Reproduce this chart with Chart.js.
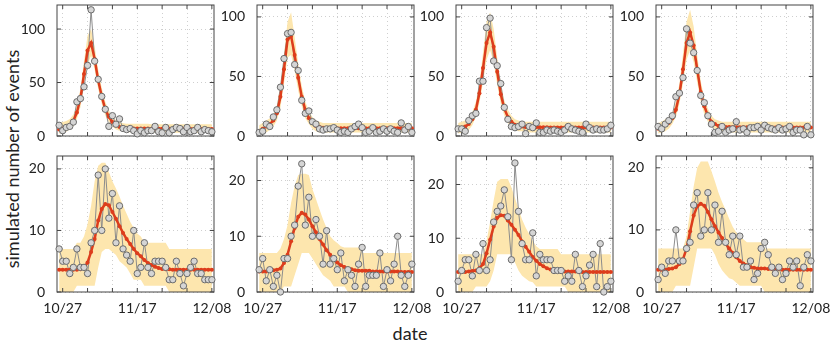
<!DOCTYPE html>
<html>
<head>
  <meta charset="UTF-8">
  <title>simulated number of events</title>
  <script src="https://cdn.jsdelivr.net/npm/chart.js"></script>
  <style>
    body { margin: 0; background: #fff; }
    #wrap { position: relative; width: 830px; height: 342px; font-family: Lato, sans-serif; color: #222; }
    #wrap canvas { position: absolute; }
    .ylab { position: absolute; left: 12px; top: 159px; transform: translate(-50%, -50%) rotate(-90deg); font-size: 18px; white-space: nowrap; }
    .xlab { position: absolute; left: 410px; top: 333px; transform: translate(-50%, -50%); font-size: 18px; }
  </style>
</head>
<body>
  <div id="wrap">
    <div class="ylab">simulated number of events</div>
    <div class="xlab">date</div>
  </div>

  <script>
    // days relative to 10/27
    const days = [-1,0,1,2,3,4,5,6,7,8,9,10,11,12,13,14,15,16,17,18,19,20,21,22,23,24,25,26,27,28,29,30,31,32,33,34,35,36,37,38,39,40,41,42];
    const tickDays = [0, 7, 14, 21, 28, 35, 42];
    const tickLabels = ['10/27', '', '', '11/17', '', '', '12/08'];
    const yTicksTop = [0, 50, 100];
    const yTicksBottom = [0, 10, 20];
    const yMax = [122.5, 110, 110, 110, 22.1, 24.4, 25.3, 21.9];

    // top row
    const obs1 = [10,5,8,9,13,32,35,46,66,118,70,53,37,25,9,19,11,16,7,6,7,5,2,5,3,5,5,9,4,3,8,3,6,8,7,4,8,4,5,8,4,6,5,4];
    const mean1 = [6,7,8,10,14,22,35,58,80,87,72,52,37,25,18,13,10,8.5,7.5,7.2,7,7,7,7,7,7,6.8,6.8,6.8,6.8,6.7,6.7,6.7,6.7,6.6,6.6,6.6,6.6,6.5,6.5,6.5,6.5,6.5,6.5];
    const hi1 = [12,13,14,16,20,29,44,70,94,100,84,62,45,32,24,18,15,13,12,11.5,11.5,11.5,11.5,11.5,11.5,11.5,11,11,11,11,11,11,11,11,11,11,11,11,11,11,11,11,11,11];
    const lo1 = [2,3,4,6,9,16,27,47,67,75,62,44,30,19,13,9,6,5,4,3.5,3.5,3.5,3.5,3.5,3.5,3.5,3,3,3,3,3,3,3,3,3,3,3,3,3,3,3,3,3,3];

    const obs2 = [3,4,10,8,16,22,41,65,86,87,60,55,30,19,21,12,10,6,5,6,6,7,5,3,4,3,6,8,10,7,3,4,7,3,4,6,4,6,4,3,11,5,8,3];
    const mean2 = [4,6,8,10,13,19,33,56,81,84,68,49,33,22,15,11,8.5,7.5,7,6.8,6.7,6.6,6.5,6.5,6.5,6.5,6.5,6.5,6.5,6.5,6.5,6.5,6.5,6.5,6.5,6.5,6.5,6.5,6.5,6.5,6.5,6.5,6.5,6.5];
    const hi2 = [9,11,13,15,18,26,42,69,96,104,83,61,42,29,21,16,13,12,11,11,11,11,11,11,11,11,11,11,11,11,11,11,11,11,11,11,11,11,11,11,11,11,11,11];
    const lo2 = [1,2,3,5,8,13,24,44,66,68,55,38,25,15,10,6,4,3,3,3,3,3,3,3,3,3,3,3,3,3,3,3,3,3,3,3,3,3,3,3,3,3,3,3];

    const obs3 = [6,6,4,13,17,19,46,46,91,99,63,59,44,24,14,8,7,8,10,2,8,7,11,3,3,5,4,5,4,3,5,8,6,5,4,3,10,7,5,6,5,5,6,9];
    const mean3 = [6,7,8,10,14,22,36,57,78,87,75,54,35,23,16,12,9.5,8.5,8,7.5,7.5,7.4,7.4,7.3,7.3,7.3,7.2,7.2,7.2,7.2,7.2,7.2,7.2,7.2,7.2,7.2,7.2,7.2,7.2,7.2,7.2,7.2,7.2,7.2];
    const hi3 = [11,12,13,15,20,29,45,70,96,104,90,66,44,30,22,17,14,13,12,12,12,12,12,12,12,12,12,12,12,12,12,12,12,12,12,12,12,12,12,12,12,12,12,12];
    const lo3 = [2,3,3,5,9,16,28,45,64,72,62,43,27,17,11,7,5,4,4,3,3,3,3,3,3,3,3,3,3,3,3,3,3,3,3,3,3,3,3,3,3,3,3,3];

    const obs4 = [8,6,10,13,17,33,36,49,90,78,70,55,34,28,17,10,3,4,8,3,5,6,12,5,6,3,7,7,8,5,9,7,6,5,7,5,6,8,3,5,5,1,8,1];
    const mean4 = [6,7,9,11,15,22,35,56,78,87,76,56,37,25,17,12,10,8.5,8,7.5,7.5,7.4,7.4,7.3,7.3,7.3,7.2,7.2,7.2,7.2,7.2,7.2,7.2,7.2,7.2,7.2,7.2,7.2,7.2,7.2,7.2,7.2,7.2,7.2];
    const hi4 = [11,12,14,16,20,29,44,69,96,106,92,68,46,32,23,17,14,13,12,12,12,12,12,12,12,12,12,12,12,12,12,12,12,12,12,12,12,12,12,12,12,12,12,12];
    const lo4 = [2,3,4,6,10,16,27,44,64,72,62,45,29,18,12,8,6,4,4,3,3,3,3,3,3,3,3,3,3,3,3,3,3,3,3,3,3,3,3,3,3,3,3,3];

    // bottom row
    const obs5 = [7,5,5,3,4,7,4,4,3,8,10,19,10,20,12,16,8,14,7,6,5,10,3,4,8,4,3,5,5,5,4,2,2,5,3,1,3,4,5,3,3,2,2,2];
    const mean5 = [3.6,3.6,3.6,3.6,3.6,3.6,3.7,3.9,4.8,6.5,8.6,11.6,13.5,14.3,14.1,13,11.9,10.7,9.6,8.6,7.8,7,6.3,5.8,5.2,4.7,4.4,4.1,3.9,3.75,3.7,3.7,3.6,3.6,3.6,3.6,3.6,3.6,3.6,3.6,3.6,3.6,3.6,3.6];
    const hi5 = [7,7,7,7,7,8,8,9,11,14,18,20.5,21,21,19.5,18,16.8,15.5,14,12.7,11.4,10.4,9.5,9,8,8,8,8,8,8,8,7,7,7,7,7,7,7,7,7,7,7,7,7];
    const lo5 = [0,0,0,0,0,1,1,1,1,1,1,4,6.5,7,7,6.5,6,5,4.5,4,3,2,2,2,1,1,1,1,1,1,1,0,0,0,0,0,0,0,0,0,0,0,0,0];

    const obs6 = [4,6,2,4,1,3,0,6,6,10,12,19,23,12,17,10,13,10,5,11,5,6,4,7,2,4,3,1,5,8,1,3,3,3,7,1,4,2,5,10,3,1,3,5];
    const mean6 = [3.7,3.7,3.7,3.8,3.9,4,4.2,5.2,6.7,9.1,11.5,13.5,14.2,13.9,13,11.8,10.7,9.5,8.5,7.5,6.7,5.9,5.3,4.8,4.5,4.2,4.1,3.9,3.8,3.8,3.8,3.8,3.7,3.7,3.7,3.7,3.7,3.7,3.7,3.7,3.6,3.6,3.6,3.6];
    const hi6 = [7,7,7,7,7,7,7.8,9.5,12,16,19,21,21.2,21.2,21,18.5,16.7,14.8,13,11.5,10,9.3,8.8,8.2,8,8,8,8,8,7,7,7,7,7,7,7,7,7,7,7,7,7,7,7];
    const lo6 = [0,0,0,0,0,0,0,1,1,1,3,5,7,7,7,6,5,4,3,2.5,2,1,1,1,1,0,0,0,0,0,0,0,0,0,0,0,0,0,0,0,0,0,0,0];

    const obs7 = [2,4,6,6,3,7,4,9,4,6,13,15,16,19,14,6,24,15,9,6,6,11,3,7,6,6,6,4,4,4,2,3,2,7,4,1,3,5,7,1,9,0,1,2];
    const mean7 = [3.7,3.7,3.7,3.8,3.9,4,4.4,5.2,7.2,9.7,12.2,13.8,14.3,14.2,13.3,12.5,11.6,10.6,9.4,8.4,7.5,6.5,5.8,5.2,4.8,4.4,4.2,4,3.9,3.8,3.8,3.8,3.8,3.8,3.8,3.7,3.7,3.7,3.7,3.7,3.7,3.7,3.7,3.7];
    const hi7 = [7,7,7,7,7,7,7,7,9.5,13,17,20.5,21,21,21,19.5,17.5,15.5,13.5,12,10.8,9.5,8.5,8,8,8,8,8,8,7,7,7,7,7,7,7,7,7,7,7,7,7,7,7];
    const lo7 = [0,0,0,0,0,1,1,1,1,2,4,7,7,7,7,7,5.5,4,3,2.5,2,1.8,1,1,1,1,1,1,1,1,1,0,0,0,0,0,0,0,0,0,0,0,0,0];

    const obs8 = [2,4,3,5,5,10,5,5,7,8,14,16,9,10,16,10,14,8,13,8,6,9,6,9,4,4,5,2,3,7,8,6,4,3,4,2,3,5,4,5,1,4,6,5];
    const mean8 = [3.6,3.6,3.6,3.7,3.8,4,4.5,5.3,7,9.8,12.3,13.8,14.2,13.9,12.9,11.7,10.6,9.6,8.7,7.8,7,6.3,5.6,5,4.6,4.3,4,3.9,3.8,3.8,3.8,3.7,3.7,3.7,3.7,3.6,3.6,3.6,3.6,3.6,3.6,3.6,3.6,3.6];
    const hi8 = [7,7,7,7,7,7,7,7,9,13,17,20,21,21,21,19.5,17.8,16,14.5,13.2,11.8,10.5,9.6,9,8.5,8,8,8,8,8,7,7,7,7,7,7,7,7,7,7,7,7,7,7];
    const lo8 = [0,0,0,0,0,1,1,1,1,1,4,7,7,7,7,7,6,4.5,3.5,2.8,2.2,2,1.5,1,1,1,1,1,1,1,0,0,0,0,0,0,0,0,0,0,0,0,0,0];

    const observed = [obs1, obs2, obs3, obs4, obs5, obs6, obs7, obs8];
    const means = [mean1, mean2, mean3, mean4, mean5, mean6, mean7, mean8];
    const upper = [hi1, hi2, hi3, hi4, hi5, hi6, hi7, hi8];
    const lower = [lo1, lo2, lo3, lo4, lo5, lo6, lo7, lo8];

    const red = '#dd3d1c';
    const band = '#fde6ae';
    const plotLefts = [57, 257, 456, 656];

    Chart.defaults.font.family = 'Lato, sans-serif';
    Chart.defaults.font.size = 14;
    Chart.defaults.color = '#222';

    // box round the plot area plus small inward ticks, drawn under the lines
    const frame = {
      id: 'frame',
      beforeDatasetDraw(chart, args) {
        if (args.index !== 2) return;
        const { ctx, chartArea: a, scales } = chart;
        ctx.save();
        ctx.strokeStyle = '#444';
        ctx.lineWidth = 1;
        ctx.strokeRect(a.left, a.top, a.right - a.left, a.bottom - a.top);
        ctx.beginPath();
        scales.x.ticks.forEach(t => {
          const px = scales.x.getPixelForValue(t.value);
          ctx.moveTo(px, a.bottom); ctx.lineTo(px, a.bottom - 4);
          ctx.moveTo(px, a.top); ctx.lineTo(px, a.top + 4);
        });
        scales.y.ticks.forEach(t => {
          const py = scales.y.getPixelForValue(t.value);
          ctx.moveTo(a.left, py); ctx.lineTo(a.left + 4, py);
          ctx.moveTo(a.right, py); ctx.lineTo(a.right - 4, py);
        });
        ctx.stroke();
        ctx.restore();
      }
    };

    function makePanel(k) {
      const row = Math.floor(k / 4);
      const col = k % 4;
      const padTop = row === 0 ? 1 : 6;
      const xh = row === 0 ? 4 : 30;
      const canvas = document.createElement('canvas');
      canvas.width = 226;
      canvas.height = padTop + 136 + xh;
      canvas.style.left = (plotLefts[col] - 45) + 'px';
      canvas.style.top = (row === 0 ? 0 : 150) + 'px';
      document.getElementById('wrap').appendChild(canvas);

      const pts = arr => days.map((d, i) => ({ x: d, y: arr[i] }));
      const yTicks = row === 0 ? yTicksTop : yTicksBottom;

      new Chart(canvas, {
        type: 'line',
        data: {
          datasets: [
            { data: pts(lower[k]), borderColor: 'transparent', borderWidth: 0, pointRadius: 0, fill: false, order: 5 },
            { data: pts(upper[k]), borderColor: 'transparent', borderWidth: 0, pointRadius: 0, fill: '-1', backgroundColor: band, order: 4 },
            { data: pts(observed[k]), borderColor: '#8c8c8c', borderWidth: 1, pointRadius: 0, fill: false, order: 3 },
            { data: pts(means[k]), borderColor: red, borderWidth: 2.5, pointRadius: 2, pointBackgroundColor: red, pointBorderWidth: 0, fill: false, order: 2 },
            { data: pts(observed[k]), showLine: false, pointRadius: 3.2, pointBackgroundColor: '#d5d5d5', pointBorderColor: '#6b6b6b', pointBorderWidth: 1, clip: false, order: 1 }
          ]
        },
        options: {
          responsive: false,
          animation: false,
          layout: { padding: { top: padTop, right: 24, left: 0, bottom: 0 } },
          plugins: { legend: { display: false }, tooltip: { enabled: false } },
          elements: { line: { tension: 0 } },
          scales: {
            x: {
              type: 'linear',
              min: -1.6,
              max: 42.6,
              afterBuildTicks: s => { s.ticks = tickDays.map(v => ({ value: v })); },
              afterFit: s => { s.height = xh; s.paddingLeft = 0; s.paddingRight = 0; },
              ticks: {
                display: row === 1,
                padding: 8,
                maxRotation: 0,
                autoSkip: false,
                callback: v => tickLabels[tickDays.indexOf(v)]
              },
              grid: { color: '#cfcfcf', drawTicks: false },
              border: { display: false, dash: [1, 3] }
            },
            y: {
              min: 0,
              max: yMax[k],
              afterBuildTicks: s => { s.ticks = yTicks.map(v => ({ value: v })); },
              afterFit: s => { s.width = 45; s.paddingTop = 0; s.paddingBottom = 0; },
              ticks: { padding: 12 },
              grid: { color: '#cfcfcf', drawTicks: false },
              border: { display: false, dash: [1, 3] }
            }
          }
        },
        plugins: [frame]
      });
    }

    for (let k = 0; k < 8; k++) makePanel(k);
  </script>
</body>
</html>
